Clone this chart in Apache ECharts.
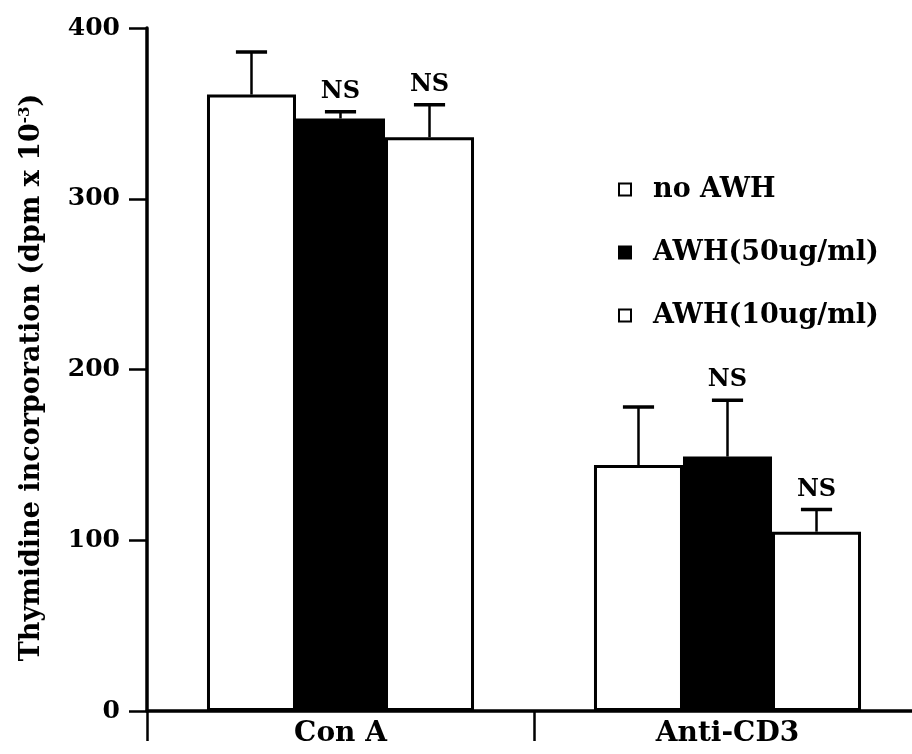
<!DOCTYPE html>
<html><head><meta charset="utf-8">
<script src="https://cdn.jsdelivr.net/npm/echarts@6/dist/echarts.min.js"></script>
<style>html,body{margin:0;padding:0;background:#fff;overflow:hidden;width:912px;height:754px}#c{width:930px;height:754px}</style>
</head><body><div id="c"></div>
<script>
var categories = ['Con A', 'Anti-CD3'];
var seriesNames = ['no AWH', 'AWH(50ug/ml)', 'AWH(10ug/ml)'];
var noAWH = [361, 144];
var noAWHErr = [25, 34];
var awh50 = [347, 149];
var awh50Err = [4, 33];
var awh10 = [336, 105];
var awh10Err = [19, 13];
var noAWHSig = ['', ''];
var awh50Sig = ['NS', 'NS'];
var awh10Sig = ['NS', 'NS'];
var yTicks = [0, 100, 200, 300, 400];

var FONT = 'DejaVu Serif';
var values = [noAWH, awh50, awh10];
var errs = [noAWHErr, awh50Err, awh10Err];
var sigs = [noAWHSig, awh50Sig, awh10Sig];
var fills = ['#ffffff', '#000000', '#ffffff'];
var CAT_GAP = 0.31;

var series = [];
values.forEach(function (v, s) {
  series.push({
    name: seriesNames[s], type: 'bar', data: v,
    barGap: '0%', barCategoryGap: (CAT_GAP * 100) + '%',
    itemStyle: { color: fills[s], borderColor: '#000', borderWidth: 3 },
    emphasis: { disabled: true }, z: 2
  });
});
values.forEach(function (v, s) {
  series.push({
    type: 'custom', z: 5, silent: true,
    data: v.map(function (val, i) { return [i, val, errs[s][i]]; }),
    renderItem: function (params, api) {
      var cat = api.value(0), val = api.value(1), err = api.value(2);
      var catW = api.size([1, 0])[0];
      var barW = catW * (1 - CAT_GAP) / 3;
      var base = api.coord([cat, val]);
      var cx = base[0] + (s - 1) * barW;
      var top = api.coord([cat, val + err])[1];
      var cap = barW * 0.35;
      var children = [
        { type: 'line', shape: { x1: cx, y1: base[1], x2: cx, y2: top }, style: { stroke: '#000', lineWidth: 2.5 } },
        { type: 'line', shape: { x1: cx - cap / 2, y1: top, x2: cx + cap / 2, y2: top }, style: { stroke: '#000', lineWidth: 3.5 } }
      ];
      var lbl = sigs[s][cat];
      if (lbl) {
        children.push({ type: 'text', style: { text: lbl, x: cx, y: top - 8, align: 'center', verticalAlign: 'bottom', font: 'bold 24px "' + FONT + '"', fill: '#000' } });
      }
      return { type: 'group', children: children };
    }
  });
});

var chart = echarts.init(document.getElementById('c'));
chart.setOption({
  animation: false,
  backgroundColor: '#fff',
  grid: { left: 147, right: 9, top: 28, bottom: 43, containLabel: false },
  legend: {
    data: seriesNames, orient: 'vertical', left: 613, top: 171,
    itemWidth: 12, itemHeight: 12, itemGap: 36, icon: 'rect',
    textStyle: { fontFamily: FONT, fontWeight: 'bold', fontSize: 27, color: '#000', padding: [0, 0, 0, 17] }
  },
  xAxis: {
    type: 'category', data: categories,
    axisLine: { lineStyle: { color: '#000', width: 3.5 } },
    axisTick: { show: true, length: 30, lineStyle: { color: '#000', width: 2.5 } },
    axisLabel: { fontFamily: FONT, fontWeight: 'bold', fontSize: 28, color: '#000', margin: 9 }
  },
  yAxis: {
    type: 'value', min: yTicks[0], max: yTicks[yTicks.length - 1], interval: 100,
    splitLine: { show: false },
    axisLine: { show: true, lineStyle: { color: '#000', width: 3.5 } },
    axisTick: { show: true, length: 18, lineStyle: { color: '#000', width: 2.5 } },
    axisLabel: { fontFamily: FONT, fontWeight: 'bold', fontSize: 25, color: '#000', margin: 27 },
    name: 'Thymidine incorporation (dpm x 10{sup|-3})',
    nameLocation: 'middle', nameGap: 102, nameRotate: 90,
    nameTextStyle: { fontFamily: FONT, fontWeight: 'bold', fontSize: 27, color: '#000', padding: [0, 16, 0, 0],
      rich: { sup: { fontFamily: FONT, fontWeight: 'bold', fontSize: 15, color: '#000', verticalAlign: 'top', padding: [0, 0, 12, 0] } } }
  },
  series: series
});
</script></body></html>
